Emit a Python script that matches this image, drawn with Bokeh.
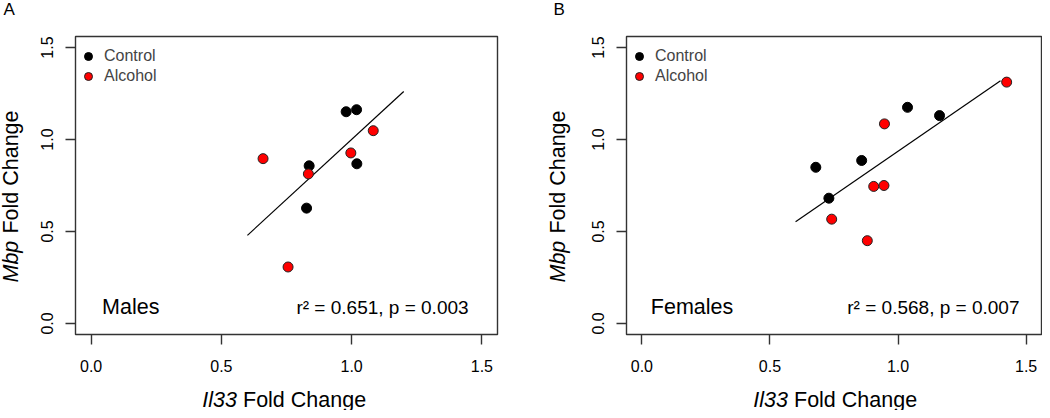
import math
from bokeh.plotting import figure
from bokeh.models import Range1d, FixedTicker, NumeralTickFormatter, Label, Legend, LegendItem
from bokeh.layouts import row, column
from bokeh.embed import file_html
from bokeh.resources import INLINE

# ---- data ----
ticks = [0.0, 0.5, 1.0, 1.5]

male_ctrl_x = [0.979, 1.019, 0.837, 1.020, 0.827]
male_ctrl_y = [1.151, 1.162, 0.857, 0.868, 0.627]
male_alc_x = [0.660, 0.834, 0.997, 1.083, 0.756]
male_alc_y = [0.896, 0.813, 0.927, 1.048, 0.307]
male_fit_x = [0.60, 1.20]
male_fit_y = [0.479, 1.261]
male_stats = "r\u00b2 = 0.651, p = 0.003"

female_ctrl_x = [0.679, 0.730, 0.858, 1.037, 1.162]
female_ctrl_y = [0.849, 0.681, 0.886, 1.175, 1.130]
female_alc_x = [0.947, 0.905, 0.945, 0.741, 0.880, 1.424]
female_alc_y = [1.085, 0.745, 0.750, 0.567, 0.450, 1.312]
female_fit_x = [0.60, 1.40]
female_fit_y = [0.553, 1.319]
female_stats = "r\u00b2 = 0.568, p = 0.007"

FONT = "Liberation Sans"
BOX = "#333333"
H = 410          # total height
MAIN_H = 382     # height of the plotting figure


def lab(p, text, x, y, size, angle=0.0, align="left", style="normal", baseline="middle", units="data"):
    p.add_layout(Label(x=x, y=y, x_units=units, y_units=units, text=text,
                       text_font=FONT, text_font_size=size, text_font_style=style,
                       text_align=align, text_baseline=baseline, angle=angle,
                       text_color="black"))


def text_fig(w, h):
    """blank figure used only to hold text"""
    p = figure(width=w, height=h, output_backend="svg", toolbar_location=None,
               x_range=Range1d(0, w), y_range=Range1d(0, h),
               x_axis_type=None, y_axis_type=None, min_border=0)
    p.grid.visible = False
    p.outline_line_color = None
    return p


def main_fig(sex, stats, cx, cy, ax, ay, fx, fy, width, right, sex_x, stats_x):
    p = figure(width=width, height=MAIN_H, output_backend="svg", toolbar_location=None,
               x_range=Range1d(-0.06, 1.56), y_range=Range1d(-0.06, 1.56),
               min_border_left=39, min_border_right=right,
               min_border_top=36, min_border_bottom=MAIN_H - 334)
    p.grid.visible = False
    p.outline_line_color = BOX
    p.outline_line_width = 1.4
    for axis in (p.xaxis[0], p.yaxis[0]):
        axis.ticker = FixedTicker(ticks=ticks, minor_ticks=[])
        axis.formatter = NumeralTickFormatter(format="0.0")
        axis.axis_line_color = None
        axis.major_tick_in = 0
        axis.major_tick_out = 10
        axis.major_tick_line_color = BOX
        axis.major_tick_line_width = 1.4
        axis.major_label_text_font = FONT
        axis.major_label_text_font_size = "16px"
        axis.major_label_text_color = "black"
    p.xaxis.major_label_standoff = 15
    p.yaxis.major_label_standoff = 12
    p.yaxis.major_label_orientation = "vertical"

    p.line(fx, fy, line_color="black", line_width=1.2)
    r1 = p.scatter(cx, cy, size=10, fill_color="black", line_color="black", line_width=1)
    r2 = p.scatter(ax, ay, size=10, fill_color="#ff0000", line_color="#222222", line_width=1)

    leg = Legend(items=[LegendItem(label="Control", renderers=[r1]),
                        LegendItem(label="Alcohol", renderers=[r2])],
                 location=(3, 248), margin=0, padding=0, spacing=0,
                 glyph_width=20, glyph_height=20, label_height=20, label_standoff=6,
                 label_text_font=FONT, label_text_font_size="16px",
                 border_line_color=None, background_fill_alpha=0)
    p.add_layout(leg)

    lab(p, sex, sex_x, 0.088, "21.5px")
    lab(p, stats, stats_x, 0.088, "19px", align="right")
    return p


def panel(letter, sex, stats, cx, cy, ax, ay, fx, fy, ylab_w, main_w, right,
          ylab_x, letter_x, sex_x, stats_x):
    # left strip: panel letter and y-axis title (screen px from bottom-left)
    ylab = text_fig(ylab_w, H)
    lab(ylab, letter, letter_x, H - 9, "17px", units="screen")
    lab(ylab, "Mbp", ylab_x, H - 282, "21.5px", angle=math.pi / 2, style="italic", units="screen")
    lab(ylab, "Fold Change", ylab_x, H - 110, "21.5px", angle=math.pi / 2, align="right", units="screen")

    m = main_fig(sex, stats, cx, cy, ax, ay, fx, fy, main_w, right, sex_x, stats_x)

    # bottom strip: x-axis title (its frame is aligned with the main frame)
    xlab = text_fig(main_w, H - MAIN_H)
    b = 167.5   # boundary between the italic gene name and the rest, from frame left
    lab(xlab, "Il33", b - 6, H - 399, "21.5px", style="italic", align="right", units="screen")
    lab(xlab, "Fold Change", b, H - 399, "21.5px", units="screen")
    return row(ylab, column(m, xlab, spacing=0), spacing=0)


pa = panel("A", "Males", male_stats, male_ctrl_x, male_ctrl_y, male_alc_x, male_alc_y,
           male_fit_x, male_fit_y, ylab_w=36, main_w=484, right=23,
           ylab_x=10, letter_x=3, sex_x=0.042, stats_x=1.449)
pb = panel("B", "Females", female_stats, female_ctrl_x, female_ctrl_y, female_alc_x, female_alc_y,
           female_fit_x, female_fit_y, ylab_w=67, main_w=455, right=1,
           ylab_x=37, letter_x=33, sex_x=0.035, stats_x=1.474)

layout = row(pa, pb, spacing=0)
open("out.html", "w").write(file_html(layout, INLINE))
